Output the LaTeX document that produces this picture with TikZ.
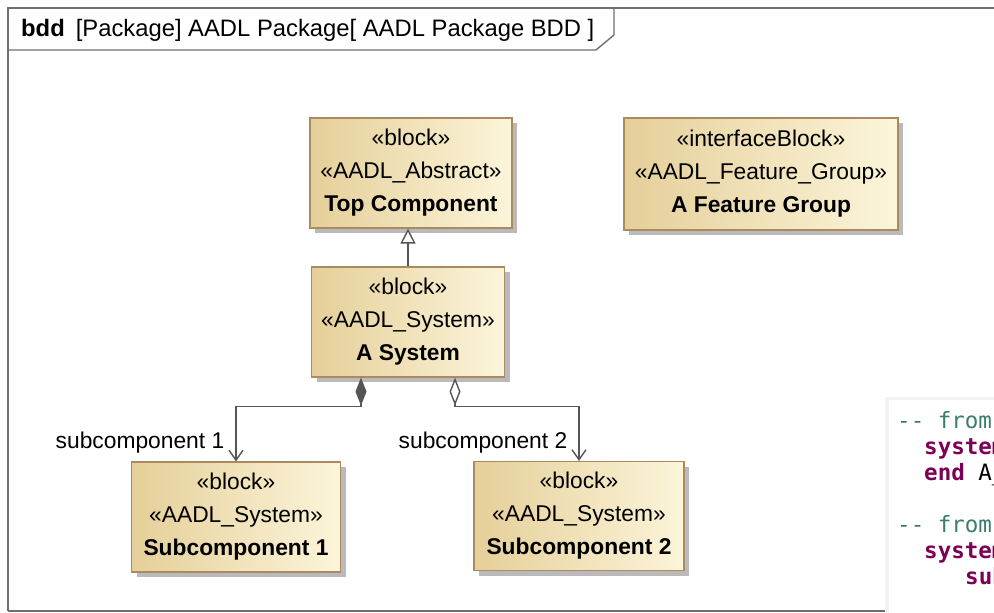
\documentclass[tikz,border=0pt]{standalone}
\usepackage{fontspec}
\setmainfont{Liberation Sans}
\newfontfamily\codefont{DejaVu Sans Mono}
\usetikzlibrary{arrows.meta,shadows}
\definecolor{blkL}{RGB}{229,207,153}
\definecolor{blkR}{RGB}{252,245,218}
\definecolor{blkB}{RGB}{172,138,96}
\definecolor{lineC}{RGB}{85,85,85}
\definecolor{frameC}{RGB}{110,110,110}
\definecolor{cmtC}{RGB}{58,125,108}
\definecolor{kwC}{RGB}{125,0,85}
\begin{document}
\begin{tikzpicture}[x=1pt,y=-1pt,
    block/.style={draw=blkB,line width=1.2pt,left color=blkL,right color=blkR,
      align=center,inner sep=0pt,font=\fontsize{22.8}{33}\selectfont,
      drop shadow={shadow xshift=5pt,shadow yshift=-5pt,fill=black!27,opacity=1}},
    conn/.style={draw=lineC,line width=1.4pt},
    lbl/.style={font=\fontsize{22.8}{27}\selectfont,inner sep=0pt},
    code/.style={font=\codefont\bfseries\fontsize{22.5}{26}\selectfont,inner sep=0pt,anchor=base west}]
    \useasboundingbox (0,0) rectangle (994,613);
    \clip (0,0) rectangle (994,613);
    % frame and its name tab
    \draw[frameC,line width=1.4pt] (8,611) -- (8,8) -- (1000,8);
    \draw[frameC,line width=1.4pt] (8,611) -- (1000,611);
    \draw[frameC,line width=1.4pt] (8,50) -- (596,50) -- (614,35) -- (614,8);
    \node[anchor=base west,inner sep=0pt,font=\fontsize{23.8}{28}\selectfont] (title) at (21,36)
      {\textbf{bdd}\hspace{11pt}[Package] AADL Package[ AADL Package BDD ]};
    % blocks
    \node[block,minimum width=202pt,minimum height=110pt] (top) at (411,173)
      {«block»\\«AADL\_Abstract»\\\textbf{Top Component}};
    \node[block,minimum width=274pt,minimum height=112pt] (fg) at (761,174)
      {«interfaceBlock»\\«AADL\_Feature\_Group»\\\textbf{A Feature Group}};
    \node[block,minimum width=193pt,minimum height=110pt] (sys) at (408,322)
      {«block»\\«AADL\_System»\\\textbf{A System}};
    \node[block,minimum width=209pt,minimum height=110pt] (sub1) at (236,517)
      {«block»\\«AADL\_System»\\\textbf{Subcomponent 1}};
    \node[block,minimum width=210pt,minimum height=109pt] (sub2) at (579,516)
      {«block»\\«AADL\_System»\\\textbf{Subcomponent 2}};
    % relations
    \draw[conn,-{Triangle[open,fill=white,length=15pt,width=15pt]}] (sys.north) -- (sys.north |- top.south);
    \draw[conn,{Diamond[length=28pt,width=11pt]}-{Straight Barb[length=10pt,width=14pt]}]
      ([xshift=-47pt]sys.south) -- ++(0,29) -| node[lbl,pos=0.83,left=11pt] (lbl1) {subcomponent 1} (sub1.north);
    \draw[conn,{Diamond[open,fill=white,length=28pt,width=11pt]}-{Straight Barb[length=10pt,width=14pt]}]
      ([xshift=47pt]sys.south) -- ++(0,29) -| node[lbl,pos=0.83,left=11pt] (lbl2) {subcomponent 2} (sub2.north);
    % code window on the right
    \fill[black!5] (885,397) rectangle (1000,620);
    \fill[white] (889,400) rectangle (1000,620);
    \node[code,text=cmtC,font=\codefont\fontsize{22.5}{26}\selectfont] (c1) at (897,428) {-- from};
    \node[code,text=kwC] (c2) at (924,454) {system};
    \node[code,text=kwC] (c3) at (924,480) {end \textcolor{black}{\mdseries A\_}};
    \node[code,text=cmtC,font=\codefont\fontsize{22.5}{26}\selectfont] (c4) at (897,532) {-- from};
    \node[code,text=kwC] (c5) at (924,558) {system};
    \node[code,text=kwC] (c6) at (965,584) {sub};
\end{tikzpicture}
\end{document}
